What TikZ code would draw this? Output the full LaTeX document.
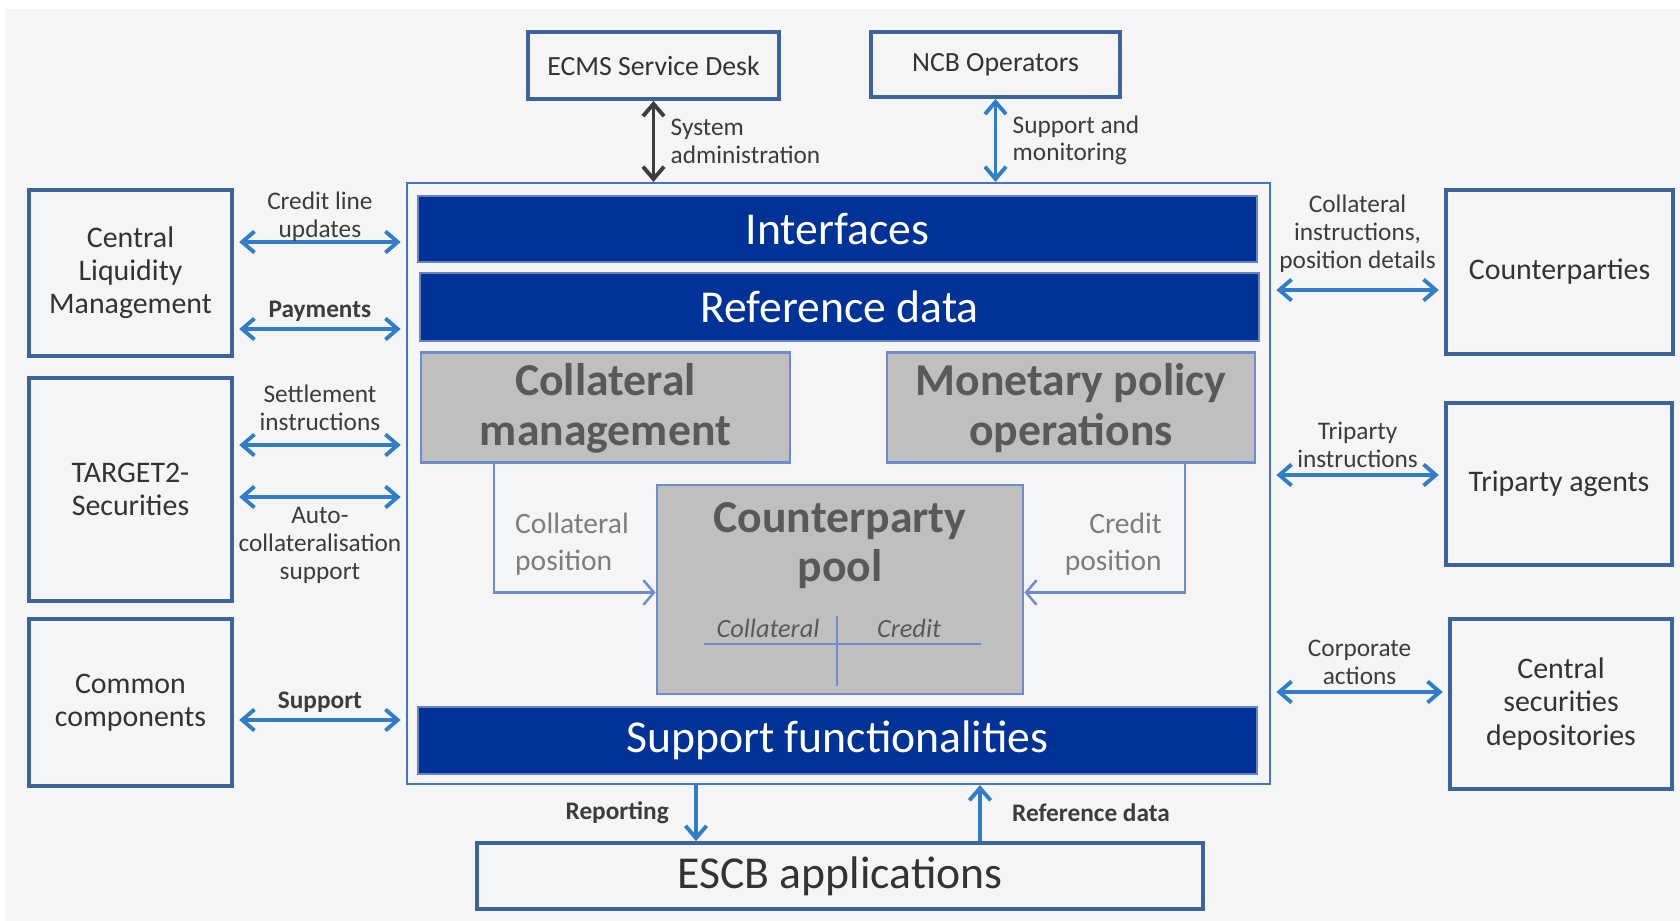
\documentclass[tikz,border=0pt]{standalone}
\usepackage{fontspec}
\setmainfont{Carlito}
\usepackage{tikz}
\usetikzlibrary{arrows.meta,calc,positioning}
\definecolor{bggrey}{RGB}{245,245,245}
\definecolor{boxblue}{RGB}{60,100,155}
\definecolor{arrblue}{RGB}{50,125,200}
\definecolor{navy}{RGB}{0,50,152}
\definecolor{modgrey}{RGB}{191,191,191}
\definecolor{modline}{RGB}{110,140,205}
\definecolor{frameblue}{RGB}{70,115,200}
\definecolor{txtgrey}{RGB}{60,60,60}
\definecolor{darkgrey}{RGB}{89,89,89}
\definecolor{lightgrey}{RGB}{125,125,125}
\newcommand{\boxfont}{\fontsize{8.5}{9.4}\selectfont}
\newcommand{\topfont}{\fontsize{7.9}{9}\selectfont}
\newcommand{\barfont}{\fontsize{13}{14}\selectfont}
\newcommand{\lblfont}{\fontsize{7.2}{7.9}\selectfont}
\newcommand{\feedfont}{\fontsize{8.4}{10.5}\selectfont}
\tikzset{
    >={Straight Barb[length=3.5pt,width=6pt]}, line width=1pt,
    box/.style ={rectangle, draw=boxblue, fill=bggrey, line width=1.1pt, align=center, text=black!80, font=\boxfont, inner sep=0pt},
    bar/.style ={rectangle, fill=navy, draw=navy!60!white, line width=0.5pt, text=white, font=\barfont, minimum width=8.39cm},
    module/.style={rectangle, fill=modgrey, draw=modline, line width=0.8pt, text=darkgrey, font=\barfont\bfseries, align=center},
    link/.style={<->, arrblue, line width=1.1pt, shorten <=1.5pt, shorten >=1.5pt},
    lbl/.style ={font=\lblfont, text=txtgrey, align=center, inner sep=1.5pt},
    feed/.style={->, modline, line width=0.7pt, >={Straight Barb[length=3pt,width=7pt]}},
    feedlbl/.style={font=\feedfont, text=lightgrey, inner sep=0pt}
}
\begin{document}
\begin{tikzpicture}
    \useasboundingbox (0,0) rectangle (16.8,-9.21);
    \fill[bggrey] (0.05,-0.09) rectangle (16.8,-9.21);

    % outside parties
    \node (ecms) [box, font=\topfont, minimum width=2.51cm, minimum height=0.67cm] at (6.535,-0.655) {ECMS Service Desk};
    \node (ncb) [box, font=\topfont, minimum width=2.49cm, minimum height=0.65cm] at (9.955,-0.645) {NCB Operators};
    \node (clm) [box, minimum width=2.03cm, minimum height=1.66cm] at (1.305,-2.73) {Central\\Liquidity\\Management};
    \node (t2s) [box, minimum width=2.03cm, minimum height=2.23cm] at (1.305,-4.895) {TARGET2-\\Securities};
    \node (cc) [box, minimum width=2.03cm, minimum height=1.67cm] at (1.305,-7.025) {Common\\components};
    \node (cpties) [box, minimum width=2.27cm, minimum height=1.64cm] at (15.595,-2.72) {Counterparties};
    \node (tpa) [box, minimum width=2.26cm, minimum height=1.62cm] at (15.59,-4.84) {Triparty agents};
    \node (csd) [box, minimum width=2.22cm, minimum height=1.70cm] at (15.61,-7.04) {Central\\securities\\depositories};
    \node (escb) [box, font=\barfont, minimum width=7.26cm, minimum height=0.66cm] at (8.40,-8.76) {ESCB applications};

    % ECMS
    \node (frame) [draw=frameblue, line width=0.6pt, minimum width=8.63cm, minimum height=6.01cm, inner sep=0pt] at (8.385,-4.835) {};
    \node (interfaces) [bar, minimum height=0.66cm] at (8.375,-2.29) {Interfaces};
    \node (refdata) [bar, minimum height=0.68cm] at (8.395,-3.07) {Reference data};
    \node (colmgmt) [module, minimum width=3.69cm, minimum height=1.03cm, text depth=0.06cm] at (6.055,-4.075) {Collateral\\management};
    \node (mpo) [module, minimum width=3.68cm, minimum height=1.03cm, text depth=0.06cm] at (10.71,-4.075) {Monetary policy\\operations};
    \node (pool) [module, minimum width=3.66cm, minimum height=2.09cm] at (8.40,-5.895) {};
    \node (pooltitle) [font=\barfont\bfseries, text=darkgrey, align=center] at (8.40,-5.46) {Counterparty\\pool};
    \node (poolcol) [font=\fontsize{7.5}{9}\selectfont\itshape, text=darkgrey] at (7.68,-6.28) {Collateral};
    \node (poolcred) [font=\fontsize{7.5}{9}\selectfont\itshape, text=darkgrey] at (9.09,-6.28) {Credit};
    \draw[modline, line width=0.8pt] ([shift={(-1.36,-0.545)}]pool.center) -- ([shift={(1.41,-0.545)}]pool.center);
    \draw[modline, line width=0.8pt] ([shift={(-0.03,-0.265)}]pool.center) -- ([shift={(-0.03,-0.965)}]pool.center);
    \node (support) [bar, minimum height=0.67cm] at (8.375,-7.405) {Support functionalities};

    \draw[feed] ([xshift=-1.115cm]colmgmt.south) |- node[feedlbl, pos=0.31, anchor=west, xshift=0.2cm, align=left] {Collateral\\position} ([yshift=-0.03cm]pool.west);
    \draw[feed] ([xshift=1.14cm]mpo.south) |- node[feedlbl, pos=0.31, anchor=east, xshift=-0.22cm, align=right] {Credit\\position} ([yshift=-0.03cm]pool.east);

    % connectors
    \path (ecms) edge[<->, txtgrey, line width=1.1pt] node[lbl, right, align=left, xshift=0.1cm] {System\\administration} (ecms.south |- frame.north);
    \path (ncb) edge[<->, arrblue, line width=1.1pt] node[lbl, right, align=left, xshift=0.1cm] {Support and\\monitoring} (ncb.south |- frame.north);

    \path (clm.east |- 0,-2.42) edge[link] node[lbl, above, yshift=-2pt] {Credit line\\updates} (frame.west |- 0,-2.42);
    \path (clm.east |- 0,-3.29) edge[link] node[lbl, above, font=\lblfont\bfseries] {Payments} (frame.west |- 0,-3.29);
    \path (t2s.east |- 0,-4.45) edge[link] node[lbl, above, yshift=2pt] {Settlement\\instructions} (frame.west |- 0,-4.45);
    \path (t2s.east |- 0,-4.97) edge[link] node[lbl, below, yshift=-1pt] {Auto-\\collateralisation\\support} (frame.west |- 0,-4.97);
    \path (cc.east |- 0,-7.20) edge[link] node[lbl, above, font=\lblfont\bfseries] {Support} (frame.west |- 0,-7.20);

    \path (frame.east |- 0,-2.90) edge[link] node[lbl, above, yshift=3pt] {Collateral\\instructions,\\position details} (cpties.west |- 0,-2.90);
    \path (frame.east |- 0,-4.75) edge[link] node[lbl, above] {Triparty\\instructions} (tpa.west |- 0,-4.75);
    \path (frame.east |- 0,-6.92) edge[link] node[lbl, above] {Corporate\\actions} (csd.west |- 0,-6.92);

    \path (frame.south -| 6.96,0) edge[->, arrblue, line width=1.1pt] node[lbl, left, xshift=-0.2cm, font=\lblfont\bfseries] {Reporting} (escb.north -| 6.96,0);
    \path (escb.north -| 9.80,0) edge[->, arrblue, line width=1.1pt] node[lbl, right, xshift=0.25cm, font=\lblfont\bfseries] {Reference data} (frame.south -| 9.80,0);

\end{tikzpicture}
\end{document}
